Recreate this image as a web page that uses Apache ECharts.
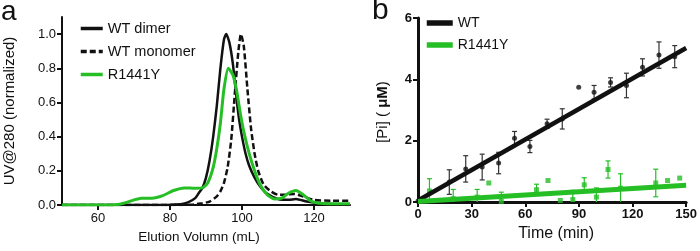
<!DOCTYPE html>
<html>
<head>
<meta charset="utf-8">
<script src="https://cdn.jsdelivr.net/npm/echarts@6/dist/echarts.min.js"></script>
<style>
    html, body { margin: 0; padding: 0; background: #fff; }
    #main { width: 700px; height: 251px; }
</style>
</head>
<body>
<div id="main"></div>
<script>
// panel a - elution profiles
var dimerX = [50, 75, 83, 85, 87, 88, 89, 90, 91, 92, 93, 94, 95, 95.6, 96.5, 97.5, 98.5, 99.2, 100, 101, 102, 103.5, 105, 107, 110, 113, 115, 118, 122, 130];
var dimerY = [0, 0, 0.005, 0.015, 0.04, 0.07, 0.1, 0.16, 0.26, 0.4, 0.58, 0.8, 0.97, 1.0, 0.95, 0.82, 0.62, 0.5, 0.4, 0.3, 0.23, 0.16, 0.11, 0.065, 0.035, 0.03, 0.035, 0.02, 0.01, 0];
var monoX = [50, 80, 86, 89, 91, 93, 94, 95, 96, 97, 98, 99, 99.7, 100.5, 101.5, 102.5, 103.5, 104.5, 106, 108, 110, 112, 114.5, 117, 120, 125, 130];
var monoY = [0, 0, 0.002, 0.01, 0.02, 0.05, 0.08, 0.13, 0.22, 0.38, 0.65, 0.9, 1.0, 0.93, 0.68, 0.45, 0.3, 0.2, 0.12, 0.08, 0.06, 0.06, 0.065, 0.05, 0.03, 0.025, 0.025];
var mutX = [50, 62, 66, 68, 70, 72, 75, 78, 81, 84, 87, 89, 90.5, 92, 93, 94, 95, 96.2, 97.5, 98.5, 99.5, 100.5, 102, 103.5, 105, 107, 109, 111, 113, 115, 117, 119, 121, 125, 130];
var mutY = [0, 0, 0.005, 0.015, 0.03, 0.04, 0.04, 0.055, 0.085, 0.1, 0.098, 0.1, 0.13, 0.22, 0.33, 0.48, 0.68, 0.8, 0.76, 0.67, 0.54, 0.43, 0.3, 0.2, 0.12, 0.06, 0.035, 0.04, 0.07, 0.085, 0.06, 0.025, 0.012, 0.008, 0.008];
var aXTicks = [60, 80, 100, 120];
var aYTicks = [0, 0.2, 0.4, 0.6, 0.8, 1.0];

// panel b - Pi release (mean, error)
var wtT = [0, 17.5, 26.7, 35.9, 45.1, 54, 62.6, 72.2, 80.7, 89.9, 98.5, 107.7, 116.6, 125.6, 134.8, 143.6];
var wtPi = [0.03, 0.65, 1.08, 1.14, 1.27, 2.08, 1.81, 2.55, 2.71, 3.74, 3.58, 3.9, 3.8, 4.39, 4.79, 4.74];
var wtErr = [0, 0.4, 0.43, 0.42, 0.35, 0.22, 0.2, 0.15, 0.33, 0, 0.22, 0.15, 0.4, 0.28, 0.43, 0.36];
var mutT = [6.4, 19.7, 33.1, 39.6, 46.6, 66.3, 72.7, 79.6, 86.6, 93, 99.8, 106.3, 113.3, 133, 139.6, 146.4];
var mutPi = [0.36, 0.11, 0.16, 0.62, 0.02, 0.4, 0.7, 0.05, 0.08, 0.56, 0.16, 1.06, 0.45, 0.62, 0.7, 0.78];
var mutErr = [0.4, 0.3, 0.25, 0, 0.3, 0.18, 0, 0, 0.3, 0.23, 0.3, 0.28, 0.47, 0.45, 0, 0];
var wtFitX = [0, 150];
var wtFitY = [0.05, 5.02];
var mutFitX = [0, 150];
var mutFitY = [0.02, 0.55];

var GREEN = '#25be25';
var FONT = 'Liberation Sans, Arial, sans-serif';

function zip(xs, ys, es) {
    var out = [];
    for (var i = 0; i < xs.length; i++) {
        out.push(es ? [xs[i], ys[i], es[i]] : [xs[i], ys[i]]);
    }
    return out;
}

function errorBar(color) {
    return function (params, api) {
        var x = api.value(0), y = api.value(1), e = api.value(2);
        if (!e) return;
        var hi = api.coord([x, y + e]);
        var lo = api.coord([x, y - e]);
        var w = 2.5;
        var st = { stroke: color, lineWidth: 1.2 };
        return {
            type: 'group',
            children: [
                { type: 'line', shape: { x1: hi[0], y1: hi[1], x2: lo[0], y2: lo[1] }, style: st },
                { type: 'line', shape: { x1: hi[0] - w, y1: hi[1], x2: hi[0] + w, y2: hi[1] }, style: st },
                { type: 'line', shape: { x1: lo[0] - w, y1: lo[1], x2: lo[0] + w, y2: lo[1] }, style: st }
            ]
        };
    };
}

var chart = echarts.init(document.getElementById('main'), null, { renderer: 'canvas' });

var option = {
    backgroundColor: '#fff',
    animation: false,
    textStyle: { fontFamily: FONT, color: '#111' },
    graphic: [
        { type: 'text', left: 1, top: -2, style: { text: 'a', font: '28px ' + FONT, fill: '#111' } },
        { type: 'text', left: 372, top: -4, style: { text: 'b', font: '30px ' + FONT, fill: '#111' } },
        // panel b y title (rich text via axis name sits off-centre)
        {
            type: 'text', x: 383, y: 112, rotation: Math.PI / 2,
            style: {
                text: '[Pi] ( {b|μM})', font: '15px ' + FONT, fill: '#111',
                align: 'center', verticalAlign: 'middle',
                rich: { b: { font: 'bold 15px ' + FONT, fill: '#111' } }
            }
        }
    ],
    legend: [
        {
            left: 74, top: 16, orient: 'vertical',
            itemWidth: 22, itemHeight: 14, itemGap: 8,
            itemStyle: { opacity: 0 },
            lineStyle: { width: 3.5 },
            textStyle: { fontSize: 14.5, color: '#111', fontFamily: FONT },
            data: ['WT dimer', 'WT monomer', 'R1441Y']
        },
        {
            left: 419, top: 11, orient: 'vertical',
            itemWidth: 26, itemHeight: 14, itemGap: 8,
            itemStyle: { opacity: 0 },
            lineStyle: { width: 5.5 },
            textStyle: { fontSize: 14, color: '#111', fontFamily: FONT },
            formatter: function (name) { return name.replace('-b', ''); },
            data: ['WT', 'R1441Y-b']
        }
    ],
    grid: [
        { left: 62, top: 17, width: 288, height: 188 },
        { left: 418, top: 18, width: 272, height: 184 }
    ],
    xAxis: [
        {
            gridIndex: 0, type: 'value', min: 50, max: 130, interval: 10,
            name: 'Elution Volumn (mL)', nameLocation: 'middle', nameGap: 18,
            nameTextStyle: { fontSize: 13.5, color: '#111', padding: [0, 14, 0, 0] },
            axisLine: { lineStyle: { color: '#111', width: 2 } },
            axisTick: { length: 5, lineStyle: { color: '#111', width: 2 }, customValues: aXTicks },
            axisLabel: { fontSize: 13, color: '#111', margin: 7, customValues: aXTicks },
            splitLine: { show: false }
        },
        {
            gridIndex: 1, type: 'value', min: 0, max: 150, interval: 30,
            name: 'Time (min)', nameLocation: 'middle', nameGap: 20,
            nameTextStyle: { fontSize: 16, color: '#111', padding: [0, 0, 0, 8] },
            axisLine: { lineStyle: { color: '#111', width: 3 } },
            axisTick: { length: 5, lineStyle: { color: '#111', width: 2 } },
            axisLabel: { fontSize: 13, fontWeight: 'bold', color: '#111', margin: 6 },
            splitLine: { show: false }
        }
    ],
    yAxis: [
        {
            gridIndex: 0, type: 'value', min: 0, max: 1.1,
            name: 'UV@280 (normalized)', nameLocation: 'middle', nameGap: 45,
            nameTextStyle: { fontSize: 15, color: '#111' },
            axisLine: { show: true, lineStyle: { color: '#111', width: 2 } },
            axisTick: { show: true, length: 5, lineStyle: { color: '#111', width: 2 }, customValues: aYTicks },
            axisLabel: {
                fontSize: 13, color: '#111', margin: 6, customValues: aYTicks,
                formatter: function (v) { return v.toFixed(1); }
            },
            splitLine: { show: false }
        },
        {
            gridIndex: 1, type: 'value', min: 0, max: 6, interval: 2,
            axisLine: { show: true, lineStyle: { color: '#111', width: 3 } },
            axisTick: { show: true, length: 5, lineStyle: { color: '#111', width: 2 } },
            axisLabel: { fontSize: 13, fontWeight: 'bold', color: '#111', margin: 6 },
            splitLine: { show: false }
        }
    ],
    series: [
        {
            name: 'WT dimer', type: 'line', xAxisIndex: 0, yAxisIndex: 0,
            data: zip(dimerX, dimerY), smooth: 0.2, symbol: 'none',
            lineStyle: { color: '#111', width: 2.5 }, itemStyle: { color: '#111' }
        },
        {
            name: 'WT monomer', type: 'line', xAxisIndex: 0, yAxisIndex: 0,
            data: zip(monoX, monoY), smooth: 0.2, symbol: 'none',
            lineStyle: { color: '#111', width: 2.5, type: [6, 3] }, itemStyle: { color: '#111' }
        },
        {
            name: 'R1441Y', type: 'line', xAxisIndex: 0, yAxisIndex: 0,
            data: zip(mutX, mutY), smooth: 0.2, symbol: 'none',
            lineStyle: { color: GREEN, width: 3 }, itemStyle: { color: GREEN }
        },
        {
            type: 'custom', xAxisIndex: 1, yAxisIndex: 1, clip: true,
            renderItem: errorBar('#333'), encode: { x: 0, y: 1 },
            data: zip(wtT, wtPi, wtErr)
        },
        {
            type: 'custom', xAxisIndex: 1, yAxisIndex: 1, clip: true,
            renderItem: errorBar(GREEN), encode: { x: 0, y: 1 },
            data: zip(mutT, mutPi, mutErr)
        },
        {
            type: 'scatter', xAxisIndex: 1, yAxisIndex: 1,
            data: zip(wtT, wtPi), symbol: 'circle', symbolSize: 5,
            itemStyle: { color: '#111' }
        },
        {
            type: 'scatter', xAxisIndex: 1, yAxisIndex: 1,
            data: zip(mutT, mutPi), symbol: 'rect', symbolSize: 5,
            itemStyle: { color: GREEN }
        },
        {
            name: 'WT', type: 'line', xAxisIndex: 1, yAxisIndex: 1,
            data: zip(wtFitX, wtFitY), symbol: 'none',
            lineStyle: { color: '#111', width: 4.5 }, itemStyle: { color: '#111' }
        },
        {
            name: 'R1441Y-b', type: 'line', xAxisIndex: 1, yAxisIndex: 1,
            data: zip(mutFitX, mutFitY), symbol: 'none',
            lineStyle: { color: GREEN, width: 5 }, itemStyle: { color: GREEN }
        }
    ]
};

chart.setOption(option);
</script>
</body>
</html>
